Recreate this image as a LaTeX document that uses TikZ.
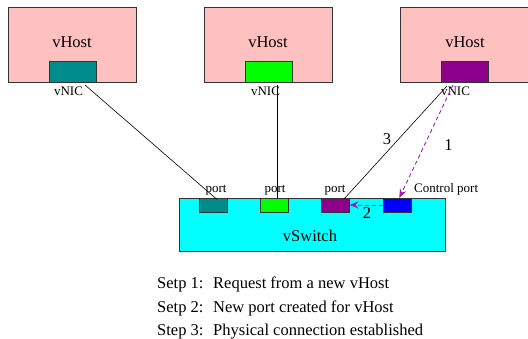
\documentclass[tikz,border=0pt]{standalone}
\usepackage{fontspec}
\setmainfont{Liberation Serif}
\usetikzlibrary{arrows.meta}
\definecolor{hostpink}{HTML}{FFC0C0}
\definecolor{nicteal}{HTML}{008C8C}
\definecolor{nicgreen}{HTML}{00FF00}
\definecolor{nicpurple}{HTML}{8C008C}
\definecolor{swcyan}{HTML}{00FFFF}
\definecolor{ctlblue}{HTML}{0000FF}
\definecolor{arrowmag}{HTML}{A020B0}
\begin{document}
\begin{tikzpicture}[x=1pt,y=-1pt,
  box/.style={draw=black!80, line width=0.7pt, inner sep=0pt, outer sep=0pt},
  hostbox/.style={box, fill=hostpink, minimum width=128pt, minimum height=75pt},
  nicbox/.style={box, minimum width=47pt, minimum height=21pt},
  portbox/.style={box, minimum width=28pt, minimum height=14pt},
  bigtxt/.style={font=\fontsize{16.5}{19}\selectfont, inner sep=0pt},
  smalltxt/.style={font=\fontsize{13}{15}\selectfont, inner sep=0pt},
  link/.style={draw=black, line width=0.6pt},
  ctlarrow/.style={draw=arrowmag, line width=0.9pt, dash pattern=on 4pt off 3pt, -{Stealth[length=9pt,width=7pt]}}
]
\useasboundingbox (0,0) rectangle (528,339);
% hosts
\node[hostbox] (h1) at (72,44.5) {};
\node[hostbox] (h2) at (268,44.5) {};
\node[hostbox, minimum width=130pt] (h3) at (465,44.5) {};
\node[bigtxt] (h1t) at (72,42.5) {vHost};
\node[bigtxt] (h2t) at (268,42.5) {vHost};
\node[bigtxt] (h3t) at (465,42.5) {vHost};
% switch
\node[box, fill=swcyan, minimum width=266pt, minimum height=53pt] (sw) at (312,224.5) {};
\node[bigtxt] (swt) at (310,236) {vSwitch};
% nics
\node[nicbox, fill=nicteal] (n1) at (72.5,71.5) {};
\node[nicbox, fill=nicgreen] (n2) at (268.5,71.5) {};
\node[nicbox, fill=nicpurple] (n3) at (464.5,71.5) {};
\node[smalltxt] (n1t) at (68.5,91) {vNIC};
\node[smalltxt] (n2t) at (265.5,91) {vNIC};
\node[smalltxt] (n3t) at (455.5,91) {vNIC};
% ports
\node[portbox, fill=nicteal] (p1) at (213,205) {};
\node[portbox, fill=nicgreen] (p2) at (274.5,205) {};
\node[portbox, fill=nicpurple] (p3) at (335.5,205) {};
\node[portbox, fill=ctlblue] (pc) at (397,205) {};
\node[smalltxt, anchor=base] (p1t) at (216,193) {port};
\node[smalltxt, anchor=base] (p2t) at (275,193) {port};
\node[smalltxt, anchor=base] (p3t) at (335,193) {port};
\node[smalltxt, anchor=base west] (pct) at (414,193) {Control port};
% connectors
\coordinate (s1) at (85,85);
\coordinate (s2) at (277,85);
\coordinate (s3) at (447,86);
\coordinate (s4) at (453,85);
\coordinate (e1) at (217,199.5);
\coordinate (e2) at (277,199.5);
\coordinate (e3) at (344,199);
\coordinate (e4) at (399.3,198);
\draw[link] (s1) -- (e1);
\draw[link] (s2) -- (e2);
\draw[link] (s3) -- (e3);
% control arrows
\draw[ctlarrow] (s4) -- (e4);
\draw[ctlarrow] (pc.west) -- (p3.east);
% step numbers
\node[bigtxt] (l3) at (387,139) {3};
\node[bigtxt] (l1) at (448.5,145) {1};
\node[bigtxt] (l2) at (367,213) {2};
% legend
\node[bigtxt, anchor=base west] (a1) at (157,289) {Setp 1:};
\node[bigtxt, anchor=base west] (b1) at (213,289) {Request from a new vHost};
\node[bigtxt, anchor=base west] (a2) at (157,312.5) {Setp 2:};
\node[bigtxt, anchor=base west] (b2) at (213,312.5) {New port created for vHost};
\node[bigtxt, anchor=base west] (a3) at (157,336) {Step 3:};
\node[bigtxt, anchor=base west] (b3) at (213,336) {Physical connection established};
\end{tikzpicture}
\end{document}
